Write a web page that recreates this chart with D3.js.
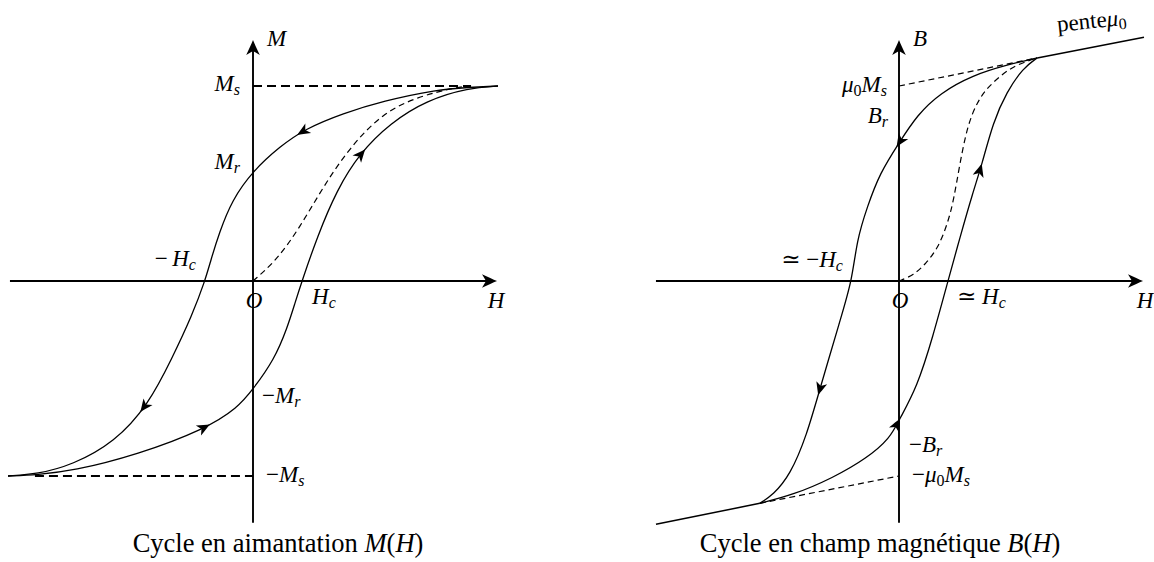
<!DOCTYPE html>
<html lang="fr">
<head>
<meta charset="utf-8">
<style>
  html, body { margin: 0; padding: 0; background: #fff; }
  svg { display: block; }
</style>
</head>
<body>
<svg id="fig" width="1154" height="562"></svg>
<script src="https://cdn.jsdelivr.net/npm/d3@7"></script>
<script>
// ---- data (H in units of Hc, M and B in units of Ms / mu0 Ms) ----

// left: M(H)
const mDescH  = [5, 4.4, 3.76, 2.65, 1.84, 1.06, 0.55, 0, -0.43, -0.69, -0.86, -0.98, -1.24, -1.65, -2.14, -2.82, -3.69, -4.4, -5]
const mDescM  = [1, 0.993, 0.982, 0.923, 0.86, 0.78, 0.69, 0.565, 0.415, 0.246, 0.108, 0, -0.174, -0.395, -0.636, -0.826, -0.944, -0.99, -1]
const mAscH   = [-5, -4.4, -3.69, -2.35, -0.98, -0.31, 0, 0.43, 0.7, 0.86, 1, 1.31, 1.71, 2.18, 2.8, 3.55, 4.4, 5]
const mAscM   = [-1, -0.993, -0.975, -0.89, -0.76, -0.65, -0.555, -0.405, -0.24, -0.11, 0, 0.226, 0.467, 0.656, 0.81, 0.928, 0.99, 1]
const mFirstH = [0, 0.49, 0.96, 1.43, 1.98, 2.65, 3.35, 4.16, 4.45]
const mFirstM = [0, 0.108, 0.277, 0.482, 0.687, 0.862, 0.944, 0.995, 1]
const mSatH   = [0, 4.45]       // dashed +Ms guide
const mNegSatH = [-4.45, 0]     // dashed -Ms guide
const mArrowsDesc = [0.9, -2.3]
const mArrowsAsc  = [-0.88, 2.29]
const mTicks = { Ms: 1, Mr: 0.565, negMr: -0.555, negMs: -1, Hc: 1, negHc: -0.98 }

// right: B(H)
const bDescH  = [2.82, 2.2, 1.51, 0.84, 0.37, 0, -0.39, -0.65, -0.86, -0.96, -1.2, -1.61, -1.88, -2.22, -2.57, -2.84]
const bDescB  = [1.144, 1.108, 1.056, 0.964, 0.851, 0.708, 0.554, 0.379, 0.21, 0, -0.2, -0.549, -0.79, -0.995, -1.097, -1.14]
const bAscH   = [-2.84, -2.16, -1.35, -0.65, -0.18, 0, 0.37, 0.69, 1, 1.24, 1.51, 1.69, 1.92, 2.2, 2.53, 2.82]
const bAscB   = [-1.14, -1.097, -1.01, -0.908, -0.805, -0.713, -0.544, -0.287, 0, 0.22, 0.456, 0.595, 0.815, 0.97, 1.092, 1.144]
const bFirstH = [0, 0.3, 0.55, 0.8, 1.0, 1.12, 1.24, 1.4, 1.6, 1.8, 2.1, 2.4, 2.82]
const bFirstB = [0, 0.03, 0.09, 0.17, 0.3, 0.42, 0.6, 0.8, 0.92, 0.99, 1.06, 1.11, 1.144]
const bSatUpH = [2.82, 5.0], bSatUpB = [1.144, 1.25]        // slope mu0
const bSatLoH = [-4.96, -2.84], bSatLoB = [-1.248, -1.14]
const bGuideUpH = [0, 2.82], bGuideUpB = [1, 1.144]
const bGuideLoH = [-2.84, 0], bGuideLoB = [-1.14, -1]
const bArrowsDesc = [-0.05, -1.65]
const bArrowsAsc  = [0.02, 1.69]
const bTicks = { mu0Ms: 1, Br: 0.708, negBr: -0.713, negMu0Ms: -1, Hc: 1, negHc: -0.96 }

const axisH = [-4.96, 4.98]
const axisV = [-1.24, 1.236]

// ---- drawing ----
const serif = "'Liberation Serif', 'DejaVu Serif', serif"
const svg = d3.select("#fig")
const curveHead = "M0,0 C-3.5,-1.4 -8,-3.5 -13,-5.6 L-9.5,0 L-13,5.6 C-8,3.5 -3.5,1.4 0,0 Z"
const axisHead  = "M0,0 C-4,-1.6 -9,-4 -15,-6.8 L-11,0 L-15,6.8 C-9,4 -4,1.6 0,0 Z"

function zip (a, b) { return a.map((v, i) => [v, b[i]]) }

function panel (cx, cy) {
  const x = d3.scaleLinear().domain([-5, 5]).range([cx - 245, cx + 245])
  const y = d3.scaleLinear().domain([-1, 1]).range([cy + 195, cy - 195])
  const line = d3.line().x(d => x(d[0])).y(d => y(d[1])).curve(d3.curveBasis)
  const g = svg.append("g")
  return { x, y, line, g }
}

function drawPath (p, pts, opts) {
  return p.g.append("path")
    .attr("d", p.line(pts))
    .attr("fill", "none")
    .attr("stroke", "#000")
    .attr("stroke-width", opts.w || 1.3)
    .attr("stroke-dasharray", opts.dash || null)
}

function headAt (p, pathNode, xTarget, shape) {
  const L = pathNode.getTotalLength()
  let best = 0, bd = Infinity
  for (let l = 0; l <= L; l += 0.25) {
    const pt = pathNode.getPointAtLength(l)
    const d = Math.abs(pt.x - xTarget)
    if (d < bd) { bd = d; best = l }
  }
  const a = pathNode.getPointAtLength(best)
  const b = pathNode.getPointAtLength(Math.max(0, best - 4))
  const ang = Math.atan2(a.y - b.y, a.x - b.x) * 180 / Math.PI
  p.g.append("path").attr("d", shape).attr("fill", "#000")
    .attr("transform", `translate(${a.x},${a.y}) rotate(${ang})`)
}

function axes (p) {
  p.g.append("line")
    .attr("x1", p.x(axisH[0])).attr("x2", p.x(axisH[1]) - 4)
    .attr("y1", p.y(0)).attr("y2", p.y(0))
    .attr("stroke", "#000").attr("stroke-width", 1.9)
  p.g.append("path").attr("d", axisHead).attr("fill", "#000")
    .attr("transform", `translate(${p.x(axisH[1])},${p.y(0)})`)
  p.g.append("line")
    .attr("x1", p.x(0)).attr("x2", p.x(0))
    .attr("y1", p.y(axisV[0])).attr("y2", p.y(axisV[1]) + 4)
    .attr("stroke", "#000").attr("stroke-width", 1.9)
  p.g.append("path").attr("d", axisHead).attr("fill", "#000")
    .attr("transform", `translate(${p.x(0)},${p.y(axisV[1])}) rotate(-90)`)
}

// math label: parts = [[text, kind]], kind: i italic, r roman, s italic subscript, sr roman subscript
function mathLabel (g, px, py, parts, anchor, rot) {
  const t = g.append("text")
    .attr("font-family", serif).attr("font-size", 23).attr("fill", "#000")
    .attr("x", px).attr("y", py).attr("text-anchor", anchor || "start")
  if (rot) t.attr("transform", `rotate(${rot},${px},${py})`)
  let shifted = false
  parts.forEach(([s, k]) => {
    const ts = t.append("tspan").text(s)
    const sub = k === "s" || k === "sr"
    ts.attr("font-style", (k === "i" || k === "s") ? "italic" : "normal")
    if (sub) ts.attr("font-size", 16)
    if (sub && !shifted) { ts.attr("dy", 4); shifted = true }
    else if (!sub && shifted) { ts.attr("dy", -4); shifted = false }
  })
  return t
}

function caption (x, y, words, letter) {
  const t = svg.append("text")
    .attr("font-family", serif).attr("font-size", 26.5).attr("fill", "#000")
    .attr("x", x).attr("y", y).attr("text-anchor", "middle")
  t.append("tspan").text(words)
  t.append("tspan").attr("font-style", "italic").text(letter)
  t.append("tspan").text("(")
  t.append("tspan").attr("font-style", "italic").text("H")
  t.append("tspan").text(")")
}

// ===== left panel : M(H) =====
const L = panel(253, 281)
drawPath(L, [[mSatH[0], mTicks.Ms], [mSatH[1], mTicks.Ms]], { w: 2, dash: "9,5" })
drawPath(L, [[mNegSatH[0], mTicks.negMs], [mNegSatH[1], mTicks.negMs]], { w: 2, dash: "9,5" })
axes(L)
const lDesc = drawPath(L, zip(mDescH, mDescM), {}).node()
const lAsc = drawPath(L, zip(mAscH, mAscM), {}).node()
drawPath(L, zip(mFirstH, mFirstM), { w: 1.2, dash: "6,4" })
mArrowsDesc.forEach(h => headAt(L, lDesc, L.x(h), curveHead))
mArrowsAsc.forEach(h => headAt(L, lAsc, L.x(h), curveHead))

mathLabel(L.g, L.x(0) + 14, L.y(axisV[1]) + 6, [["M", "i"]])
mathLabel(L.g, L.x(0) - 13, L.y(mTicks.Ms) + 5, [["M", "i"], ["s", "s"]], "end")
mathLabel(L.g, L.x(0) - 13, L.y(mTicks.Mr) - 2, [["M", "i"], ["r", "s"]], "end")
mathLabel(L.g, L.x(mTicks.negHc) - 9, L.y(0) - 15, [["−\u2009", "r"], ["H", "i"], ["c", "s"]], "end")
mathLabel(L.g, L.x(0) + 1, L.y(0) + 27, [["O", "i"]], "middle")
mathLabel(L.g, L.x(mTicks.Hc) + 10, L.y(0) + 23, [["H", "i"], ["c", "s"]])
mathLabel(L.g, L.x(axisH[1]) - 1, L.y(0) + 27, [["H", "i"]], "middle")
mathLabel(L.g, L.x(0) + 9, L.y(mTicks.negMr) + 14, [["−", "r"], ["M", "i"], ["r", "s"]])
mathLabel(L.g, L.x(0) + 13, L.y(mTicks.negMs) + 6, [["−", "r"], ["M", "i"], ["s", "s"]])

caption(278, 552, "Cycle en aimantation ", "M")

// ===== right panel : B(H) =====
const R = panel(899, 281)
drawPath(R, zip(bGuideUpH, bGuideUpB), { w: 1.2, dash: "6,4" })
drawPath(R, zip(bGuideLoH, bGuideLoB), { w: 1.2, dash: "6,4" })
drawPath(R, zip(bSatUpH, bSatUpB), { w: 1.5 })
drawPath(R, zip(bSatLoH, bSatLoB), { w: 1.5 })
axes(R)
const rDesc = drawPath(R, zip(bDescH, bDescB), {}).node()
const rAsc = drawPath(R, zip(bAscH, bAscB), {}).node()
drawPath(R, zip(bFirstH, bFirstB), { w: 1.2, dash: "6,4" })
bArrowsDesc.forEach(h => headAt(R, rDesc, R.x(h), curveHead))
bArrowsAsc.forEach(h => headAt(R, rAsc, R.x(h), curveHead))

mathLabel(R.g, R.x(0) + 14, R.y(axisV[1]) + 6, [["B", "i"]])
mathLabel(R.g, R.x(3.24), R.y(1.17) - 21, [["pente", "r"], ["μ", "i"], ["0", "sr"]], "start", -6)
mathLabel(R.g, R.x(0) - 12, R.y(bTicks.mu0Ms) + 6, [["μ", "i"], ["0", "sr"], ["M", "i"], ["s", "s"]], "end")
mathLabel(R.g, R.x(0) - 11, R.y(bTicks.Br) - 20, [["B", "i"], ["r", "s"]], "end")
mathLabel(R.g, R.x(bTicks.negHc) - 9, R.y(0) - 14, [["≃ −", "r"], ["H", "i"], ["c", "s"]], "end")
mathLabel(R.g, R.x(0) + 1, R.y(0) + 27, [["O", "i"]], "middle")
mathLabel(R.g, R.x(bTicks.Hc) + 9, R.y(0) + 23, [["≃ ", "r"], ["H", "i"], ["c", "s"]])
mathLabel(R.g, R.x(axisH[1]) + 2, R.y(0) + 27, [["H", "i"]], "middle")
mathLabel(R.g, R.x(0) + 10, R.y(bTicks.negBr) + 32, [["−", "r"], ["B", "i"], ["r", "s"]])
mathLabel(R.g, R.x(0) + 13, R.y(bTicks.negMu0Ms) + 6, [["−", "r"], ["μ", "i"], ["0", "sr"], ["M", "i"], ["s", "s"]])

caption(880, 552, "Cycle en champ magnétique ", "B")
</script>
</body>
</html>
